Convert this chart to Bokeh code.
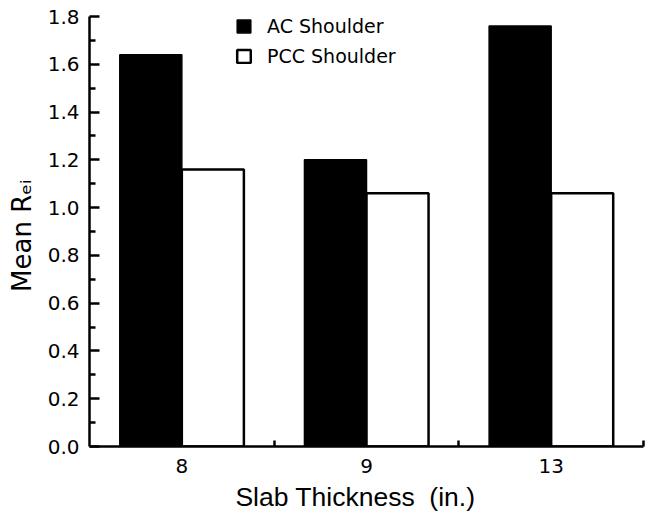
from bokeh.plotting import figure
from bokeh.models import Range1d, FixedTicker, PrintfTickFormatter, Legend, LegendItem
from bokeh.embed import file_html
from bokeh.resources import INLINE

# ---- data ----
categories = ["8", "9", "13"]
ac_shoulder = [1.64, 1.20, 1.76]
pcc_shoulder = [1.16, 1.06, 1.06]
y_ticks = [0.0, 0.2, 0.4, 0.6, 0.8, 1.0, 1.2, 1.4, 1.6, 1.8]
y_minor = [0.1, 0.3, 0.5, 0.7, 0.9, 1.1, 1.3, 1.5, 1.7]
x_title = "Slab Thickness\u00a0 (in.)"
y_title = "Mean R\u2091\u1d62"

n = len(categories)
centers = [i + 0.5 for i in range(n)]
bar_w = 0.336
off = 0.168

p = figure(width=646, height=514, output_backend="svg", toolbar_location=None,
           x_range=Range1d(0, n), y_range=Range1d(0, 1.8),
           min_border_left=89, min_border_right=3, min_border_top=16, min_border_bottom=62)
p.outline_line_color = None
p.xgrid.visible = False
p.ygrid.visible = False
p.background_fill_color = "white"

ac = p.vbar(x=[c - off for c in centers], top=ac_shoulder, width=bar_w, bottom=0,
            fill_color="black", line_color="black", line_width=1.5)
pcc = p.vbar(x=[c + off for c in centers], top=pcc_shoulder, width=bar_w, bottom=0,
             fill_color="white", line_color="black", line_width=2.5)

# x axis
xa = p.xaxis[0]
xa.ticker = FixedTicker(ticks=centers, minor_ticks=[float(i) for i in range(1, n + 1)])
xa.major_label_overrides = {c: lab for c, lab in zip(centers, categories)}
xa.major_tick_in = 0
xa.major_tick_out = 0
xa.minor_tick_in = 6
xa.minor_tick_out = 0
xa.minor_tick_line_width = 2.5
xa.axis_line_width = 2.5
xa.axis_line_color = "black"
xa.major_label_text_font = "DejaVu Sans"
xa.major_label_text_font_size = "20px"
xa.major_label_text_color = "black"
xa.major_label_standoff = 12
xa.axis_label = x_title + "\u00a0\u00a0\u00a0"
xa.axis_label_text_font = "Liberation Sans"
xa.axis_label_text_font_size = "26.5px"
xa.axis_label_text_font_style = "normal"
xa.axis_label_text_color = "black"
xa.axis_label_standoff = 6

# y axis
ya = p.yaxis[0]
ya.ticker = FixedTicker(ticks=y_ticks, minor_ticks=y_minor)
ya.formatter = PrintfTickFormatter(format="%.1f")
ya.major_tick_in = 10
ya.major_tick_out = 0
ya.minor_tick_in = 6
ya.minor_tick_out = 0
ya.major_tick_line_width = 2.5
ya.minor_tick_line_width = 2.5
ya.axis_line_width = 2.5
ya.major_label_text_font = "DejaVu Sans"
ya.major_label_text_font_size = "20px"
ya.major_label_text_color = "black"
ya.major_label_standoff = 10
ya.axis_label = y_title + "\u00a0"
ya.axis_label_text_font = "DejaVu Sans"
ya.axis_label_text_font_size = "26px"
ya.axis_label_text_font_style = "normal"
ya.axis_label_text_color = "black"
ya.axis_label_standoff = 8

legend = Legend(items=[LegendItem(label="AC Shoulder", renderers=[ac]),
                       LegendItem(label="PCC Shoulder", renderers=[pcc])],
                location=(146, 378), padding=0, margin=0, spacing=6,
                glyph_width=17, glyph_height=16, label_height=24, label_standoff=15,
                label_text_font="DejaVu Sans", label_text_font_size="19px",
                label_text_color="black", border_line_color=None,
                background_fill_alpha=0)
p.add_layout(legend)

open("out.html", "w").write(file_html(p, INLINE))
